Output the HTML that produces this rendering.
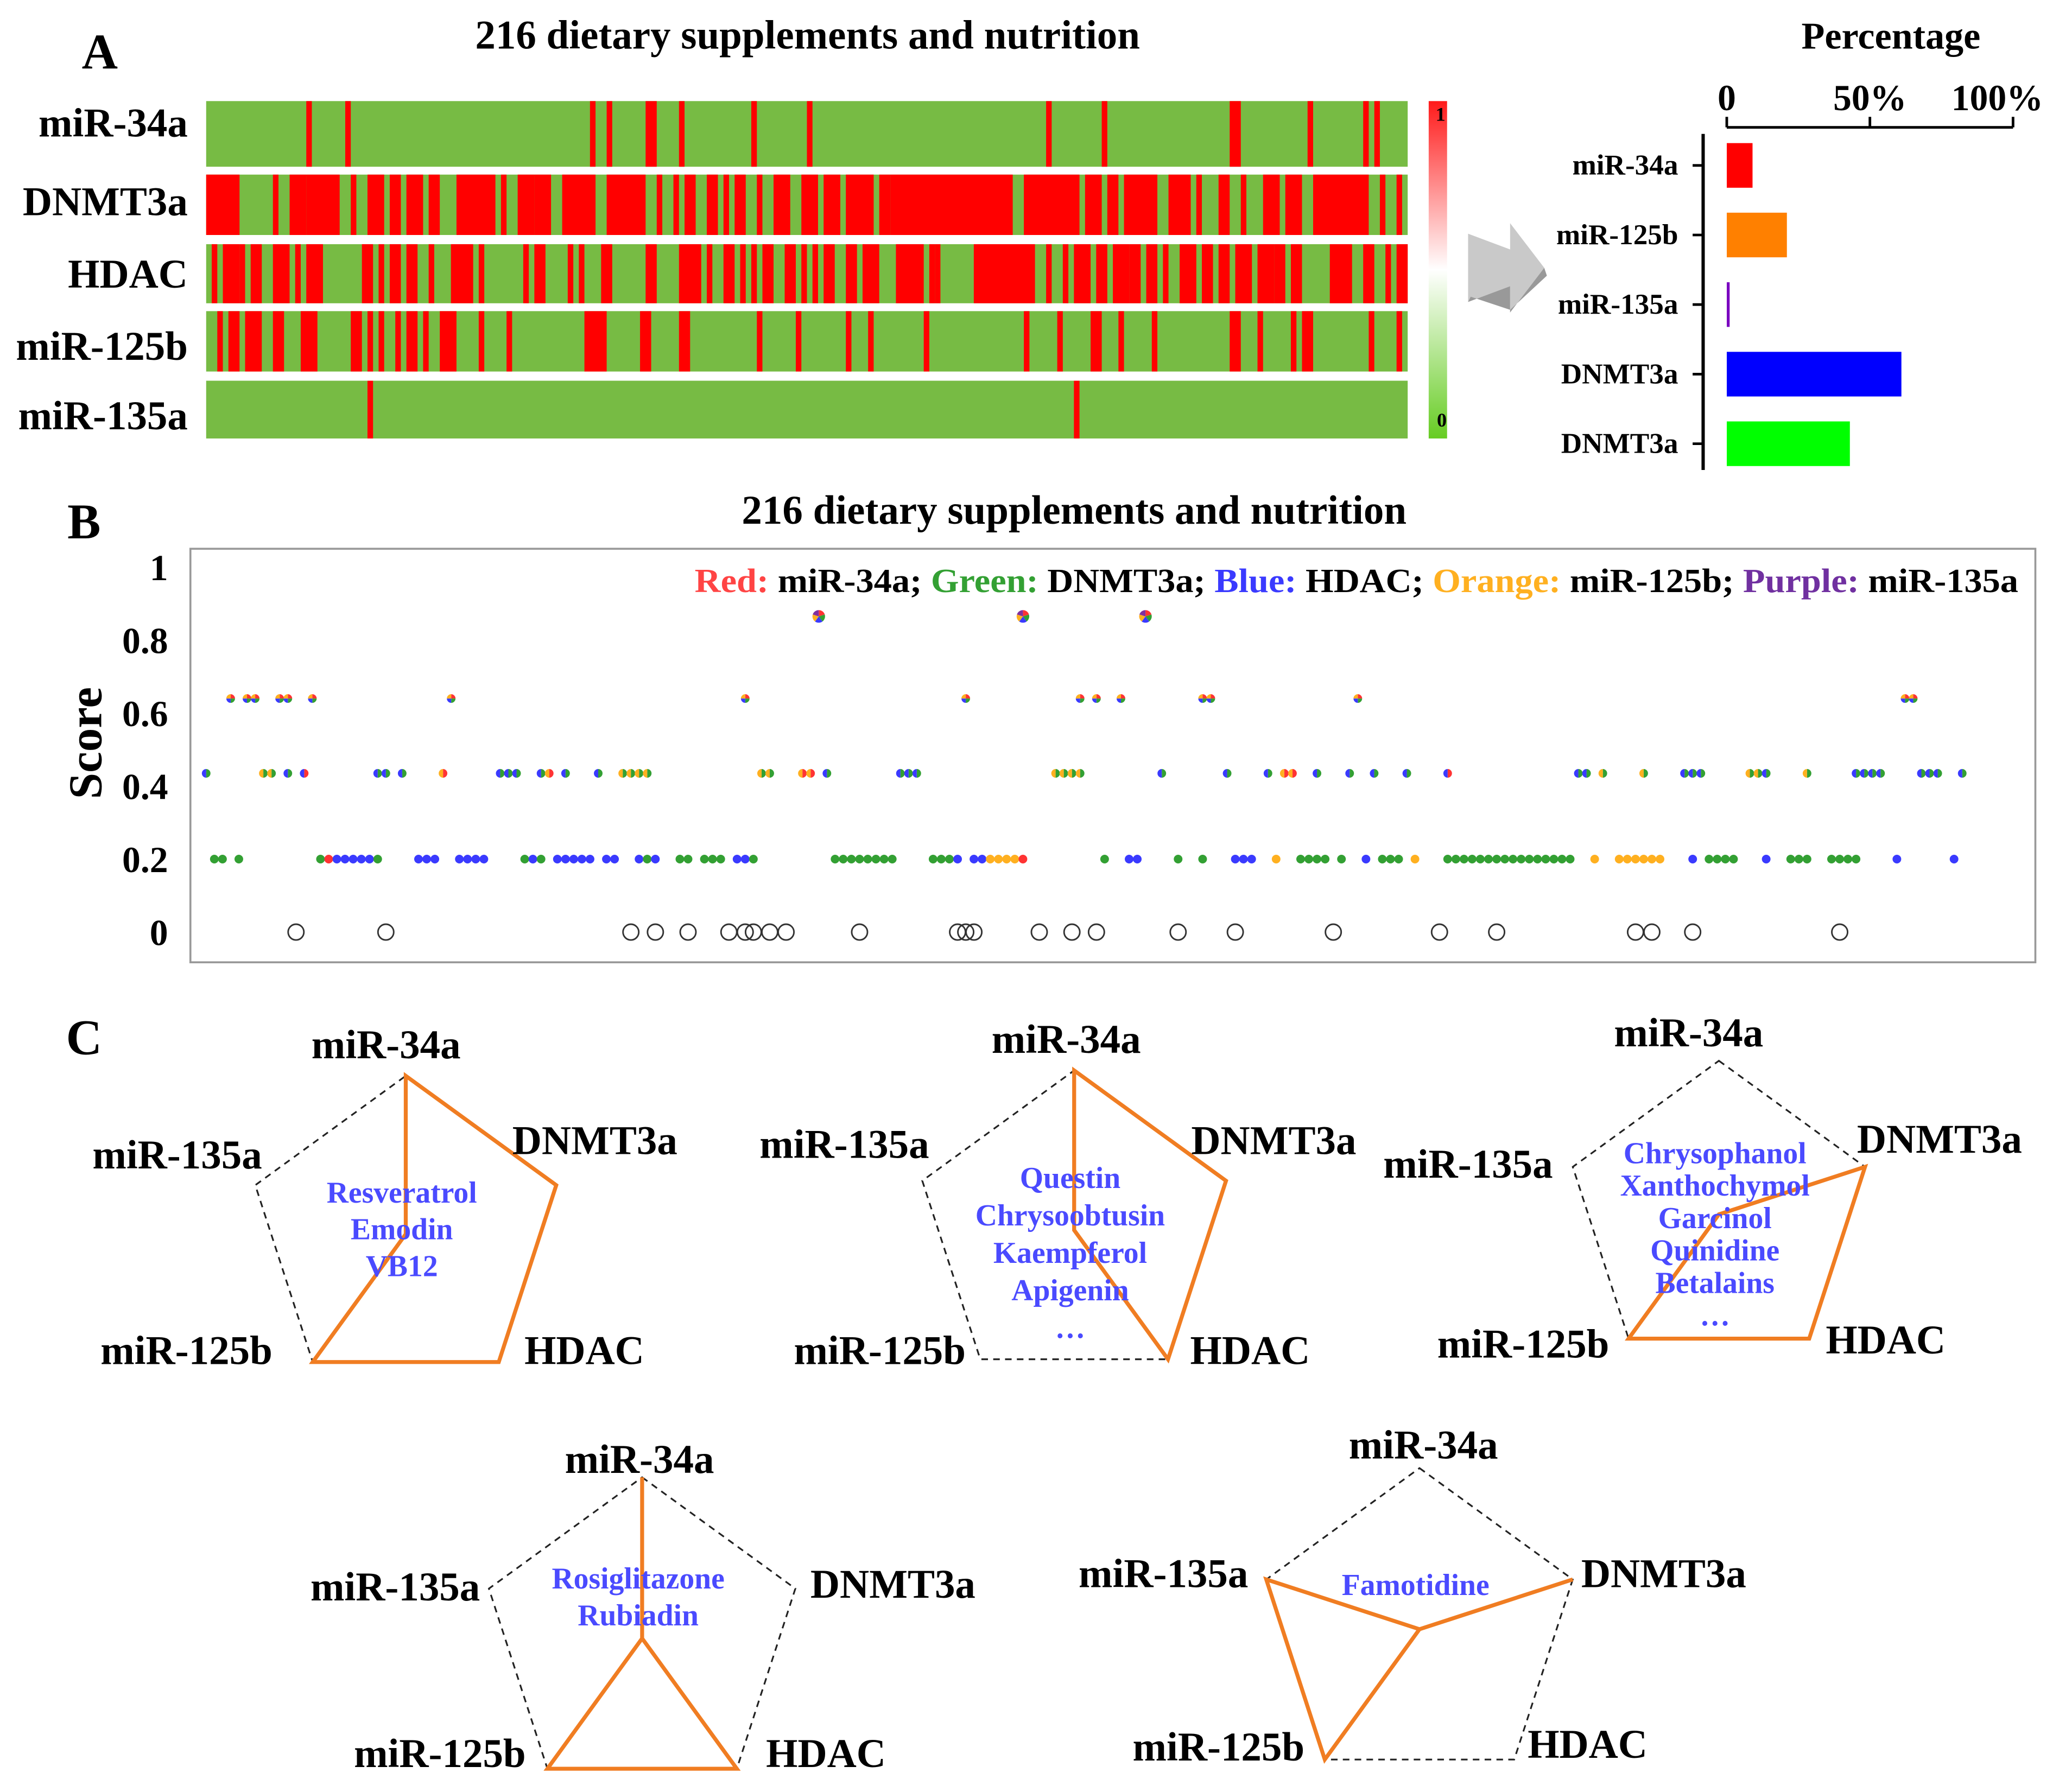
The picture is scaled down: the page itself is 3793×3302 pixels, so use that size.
<!DOCTYPE html>
<html><head><meta charset="utf-8">
<style>
html,body{margin:0;padding:0;background:#fff;}
svg{display:block;}
text{font-family:"Liberation Serif",serif;font-weight:bold;}
</style></head>
<body>
<svg id="fig" width="3793" height="3302" viewBox="0 0 1568 1365" preserveAspectRatio="none" xmlns="http://www.w3.org/2000/svg">
<defs>
<linearGradient id="cbar" x1="0" y1="0" x2="0" y2="1">
<stop offset="0" stop-color="#ff1a1a"/><stop offset="0.5" stop-color="#ffffff"/><stop offset="1" stop-color="#66cc22"/>
</linearGradient>
</defs>
<text x="76" y="52" font-size="38" text-anchor="middle">A</text>
<text x="64" y="410" font-size="38" text-anchor="middle">B</text>
<text x="64" y="803" font-size="38" text-anchor="middle">C</text>
<text x="615" y="37" font-size="31" text-anchor="middle">216 dietary supplements and nutrition</text>
<text x="1440" y="37" font-size="29" text-anchor="middle">Percentage</text>
<text x="818" y="399" font-size="31" text-anchor="middle">216 dietary supplements and nutrition</text>
<g id="heat"></g>
<g id="bars"></g>
<g id="scatter"></g>
<g id="radar"></g>
<polygon points="1118,178 1150,190 1150,170 1176,204 1150,238 1150,218 1118,230" fill="#c9c9c9"/>
<polygon points="1118,230 1150,218 1150,238 1176,204 1178,210 1150,236 1120,226" fill="#999"/>
</svg>
<script>
// ---------- Panel A heatmap data (index ranges of hits, 216 columns) ----------
const heatRows = ["miR-34a","DNMT3a","HDAC","miR-125b","miR-135a"];
const hitsMiR34a = [[18,18],[25,25],[69,69],[72,72],[79,80],[85,85],[98,98],[108,108],[151,151],[161,161],[184,185],[198,198],[208,208],[210,210]];
const hitsDNMT3a = [[0,5],[12,12],[15,17],[18,23],[26,26],[29,31],[33,34],[36,38],[40,41],[45,51],[53,53],[56,58],[59,61],[64,69],[72,78],[81,81],[84,84],[86,87],[90,91],[93,93],[95,96],[99,99],[102,104],[107,109],[111,113],[115,119],[121,122],[123,144],[147,156],[158,160],[162,163],[165,170],[173,176],[178,178],[182,183],[186,186],[190,192],[194,196],[199,208],[211,211],[214,214]];
const hitsHDAC = [[1,1],[3,5],[6,6],[8,9],[12,12],[13,14],[16,16],[18,20],[28,29],[31,31],[33,34],[36,37],[40,40],[44,47],[49,49],[57,57],[59,60],[65,65],[67,67],[71,72],[79,80],[85,88],[90,90],[93,94],[96,96],[98,98],[100,101],[104,105],[107,107],[109,109],[111,112],[115,116],[118,120],[124,128],[130,130],[131,131],[138,148],[151,151],[154,154],[156,158],[160,161],[163,165],[166,167],[169,170],[172,172],[175,177],[179,180],[182,183],[185,186],[187,187],[189,191],[192,193],[195,196],[202,205],[208,209],[212,212],[214,215]];
const hitsMiR125b = [[2,2],[4,5],[7,9],[12,13],[17,19],[26,27],[29,29],[31,31],[34,34],[36,37],[39,39],[42,44],[49,49],[54,54],[68,71],[78,79],[85,86],[99,99],[106,106],[115,115],[119,119],[129,129],[147,147],[153,153],[159,160],[164,164],[170,170],[184,185],[189,189],[195,195],[197,198],[209,209],[214,214]];
const hitsMiR135a = [[29,29],[156,156]];
const heatHits = [hitsMiR34a,hitsDNMT3a,hitsHDAC,hitsMiR125b,hitsMiR135a];
// ---------- Panel A bar data ----------
const barLabels = ["miR-34a","miR-125b","miR-135a","DNMT3a","DNMT3a"];
const barValues = [9,21,1,61,43];
const barColors = ["#ff0000","#ff8000","#7a00c0","#0000ff","#00ff00"];
const barTicks = [0,50,100];
const barTickLabels = ["0","50%","100%"];
// ---------- Panel B scatter data: [startIndex, count, colorKey] ----------
const dotRuns02 = [[1,2,"g"],[4,1,"g"],[14,1,"g"],[15,1,"r"],[16,5,"b"],[21,1,"g"],[26,3,"b"],[31,4,"b"],[39,1,"g"],[40,1,"b"],[41,1,"g"],[43,5,"b"],[49,2,"b"],[53,1,"b"],[54,1,"g"],[55,1,"b"],[58,2,"g"],[61,3,"g"],[65,2,"b"],[67,1,"g"],[77,8,"g"],[89,3,"g"],[92,1,"b"],[94,2,"b"],[96,4,"o"],[100,1,"r"],[110,1,"g"],[113,2,"b"],[119,1,"g"],[122,1,"g"],[126,3,"b"],[131,1,"o"],[134,4,"g"],[139,1,"g"],[142,1,"b"],[144,3,"g"],[148,1,"o"],[152,14,"g"],[166,2,"g"],[170,1,"o"],[173,6,"o"],[182,1,"b"],[184,4,"g"],[191,1,"b"],[194,3,"g"],[199,4,"g"],[207,1,"b"],[214,1,"b"]];
const dotRuns04 = [[0,1,"gb"],[7,2,"go"],[10,1,"gb"],[12,1,"rb"],[21,2,"gb"],[24,1,"gb"],[29,1,"ro"],[36,3,"gb"],[41,1,"gb"],[42,1,"ro"],[44,1,"gb"],[48,1,"gb"],[51,4,"go"],[68,2,"go"],[73,2,"ro"],[76,1,"gb"],[85,3,"gb"],[104,4,"go"],[117,1,"gb"],[125,1,"gb"],[130,1,"gb"],[132,2,"ro"],[136,1,"gb"],[140,1,"gb"],[143,1,"gb"],[147,1,"gb"],[152,1,"rb"],[168,2,"gb"],[171,1,"go"],[176,1,"go"],[181,3,"gb"],[189,2,"go"],[191,1,"gb"],[196,1,"go"],[202,4,"gb"],[210,3,"gb"],[215,1,"gb"]];
const dotRuns06 = [[3,1],[5,2],[9,1],[10,1],[13,1],[30,1],[66,1],[93,1],[107,1],[109,1],[112,1],[122,2],[141,1],[208,2]];
const dotRuns086 = [[75,1],[100,1],[115,1]];
const zeroIdx = [11,22,52,55,59,64,66,67,69,71,80,92,93,94,102,106,109,119,126,138,151,158,175,177,182,200];
const scoreTicks = [0,0.2,0.4,0.6,0.8,1];
const scoreTickLabels = ["0","0.2","0.4","0.6","0.8","1"];
// ---------- Panel C radar data ----------
const radarAxes = ["miR-34a","DNMT3a","HDAC","miR-125b","miR-135a"];
const radarScores = [[1,1,1,1,0],[1,1,1,0,0],[0,1,1,1,0],[1,0,1,1,0],[0,1,0,1,1]];
const radarNames = [["Resveratrol","Emodin","VB12"],["Questin","Chrysoobtusin","Kaempferol","Apigenin","…"],["Chrysophanol","Xanthochymol","Garcinol","Quinidine","Betalains","…"],["Rosiglitazone","Rubiadin"],["Famotidine"]];

const NS="http://www.w3.org/2000/svg";
function mk(tag,attrs,parent){const e=document.createElementNS(NS,tag);for(const k in attrs)e.setAttribute(k,attrs[k]);parent.appendChild(e);return e;}

// ---- heatmap ----
const heat=document.getElementById('heat');
const hx0=157,hx1=1072,nCol=216;
const rowY=[[77,127],[133,179],[186,231],[237,283],[290,334]];
const rowLabY=[104,164,219,274,327];
const colX=i=>hx0+(hx1-hx0)*i/nCol;
heatRows.forEach((name,r)=>{
  const bg=mk('rect',{x:hx0,y:rowY[r][0],width:hx1-hx0,height:rowY[r][1]-rowY[r][0],fill:'#77bb44'},heat);
  
  
  heatHits[r].forEach(([a,b])=>{
    const c=mk('rect',{x:colX(a),y:rowY[r][0],width:colX(b+1)-colX(a),height:rowY[r][1]-rowY[r][0],fill:'#ff0000'},heat);
    
    
  });
  const t=mk('text',{x:143,y:rowLabY[r],'font-size':31,'text-anchor':'end'},heat);t.textContent=name;
  
  
});
const cb=mk('rect',{x:1088,y:77,width:14,height:257,fill:'url(#cbar)'},heat);


const cb1=mk('text',{x:1097,y:92,'font-size':15,'text-anchor':'middle'},heat);cb1.textContent='1';


const cb0=mk('text',{x:1098,y:325,'font-size':15,'text-anchor':'middle'},heat);cb0.textContent='0';



// ---- bars ----
const bars=document.getElementById('bars');
const bx0=1315,bx1=1533;const bxs=v=>bx0+(bx1-bx0)*v/100;
mk('line',{x1:bx0,y1:97,x2:bx1,y2:97,stroke:'#000','stroke-width':2},bars);
mk('line',{x1:1297,y1:102,x2:1297,y2:358,stroke:'#000','stroke-width':2.5},bars);
barTicks.forEach((v,i)=>{
  mk('line',{x1:bxs(v),y1:97,x2:bxs(v),y2:89,stroke:'#000','stroke-width':2},bars);
  const t=mk('text',{x:bxs(v)+(i==2?-12:0),y:84,'font-size':28,'text-anchor':'middle'},bars);t.textContent=barTickLabels[i];
  
  
});
barLabels.forEach((name,i)=>{
  const cy=126+i*53;
  mk('line',{x1:1289,y1:cy,x2:1297,y2:cy,stroke:'#000','stroke-width':2},bars);
  const r=mk('rect',{x:bx0,y:cy-17,width:Math.max(1.5,bxs(barValues[i])-bx0),height:34,fill:barColors[i]},bars);
  
  
  const t=mk('text',{x:1278,y:cy+7,'font-size':22,'text-anchor':'end'},bars);t.textContent=name;
  
  
});

// ---- scatter ----
const sc=document.getElementById('scatter');
const frame=mk('rect',{x:145,y:418,width:1405,height:315,fill:'none',stroke:'#999','stroke-width':1.5},sc);


const sx=i=>157+i*6.22, sy=v=>710-v*278;
scoreTicks.forEach((v,i)=>{
  const t=mk('text',{x:128,y:sy(v)+10,'font-size':28,'text-anchor':'end'},sc);t.textContent=scoreTickLabels[i];
  
  
});
const yt=mk('text',{x:0,y:0,'font-size':36,'text-anchor':'middle',transform:'translate(77,566) rotate(-90)'},sc);yt.textContent='Score';


const COL={r:'#ff3333',g:'#33a033',b:'#3a3aff',o:'#ffb020',p:'#8030a0'};
function pie(cx,cy,r,cols){
  const n=cols.length;const g=mk('g',{},sc);
  
  
  if(n==1){mk('circle',{cx,cy,r,fill:COL[cols[0]]},g);return;}
  for(let k=0;k<n;k++){
    const a0=-Math.PI/2+2*Math.PI*k/n,a1=-Math.PI/2+2*Math.PI*(k+1)/n;
    mk('path',{d:`M${cx},${cy}L${cx+r*Math.cos(a0)},${cy+r*Math.sin(a0)}A${r},${r} 0 0 1 ${cx+r*Math.cos(a1)},${cy+r*Math.sin(a1)}Z`,fill:COL[cols[k]]},g);
  }
}
dotRuns02.forEach(([s,n,c])=>{for(let k=0;k<n;k++)pie(sx(s+k),sy(0.2),3.3,c.split(''));});
dotRuns04.forEach(([s,n,c])=>{for(let k=0;k<n;k++)pie(sx(s+k),sy(0.435),3.3,c.split(''));});
dotRuns06.forEach(([s,n])=>{for(let k=0;k<n;k++)pie(sx(s+k),sy(0.64),3.3,['r','g','b','o']);});
dotRuns086.forEach(([s,n])=>{for(let k=0;k<n;k++)pie(sx(s+k),sy(0.865),4.8,['r','g','b','o','p']);});
zeroIdx.forEach(i=>{
  const c=mk('circle',{cx:sx(i),cy:sy(0),r:6,fill:'none',stroke:'#333','stroke-width':1.2},sc);
  
  
});
// legend
const lg=mk('text',{x:1537,y:451,'font-size':26,'text-anchor':'end',textLength:1008,lengthAdjust:'spacingAndGlyphs'},sc);


[["Red: ","#ff4444"],["miR-34a; ","#000"],["Green: ","#33a033"],["DNMT3a; ","#000"],["Blue: ","#3a3aff"],["HDAC; ","#000"],["Orange: ","#ffb020"],["miR-125b; ","#000"],["Purple: ","#7030a0"],["miR-135a","#000"]].forEach(([t,c])=>{const s=mk('tspan',{fill:c},lg);s.textContent=t;});

// ---- radar ----
const rd=document.getElementById('radar');
const radarGeom=[[309,940,120.5],[818,937,121.6],[1309,925,117],[489,1248,122.7],[1081,1241,122.7]];
const radarLabelPos=[
 [[294,806],[453,879],[445,1039],[142,1039],[135,890]],
 [[812,802],[970,879],[952,1039],[670,1039],[643,882]],
 [[1286,797],[1477,878],[1436,1031],[1160,1034],[1118,897]],
 [[487,1122],[680,1217],[629,1346],[335,1346],[301,1219]],
 [[1084,1111],[1267,1209],[1209,1339],[928,1341],[886,1209]]];
const radarNameY=[[916,28],[905,28.5],[886,24.7],[1210,28],[1215,28]];
radarScores.forEach((sc5,ci)=>{
  const [cx,cy,R]=radarGeom[ci];
  const g=mk('g',{},rd);
  
  
  const vx=k=>cx+R*Math.cos(-Math.PI/2+k*2*Math.PI/5), vy=k=>cy+R*Math.sin(-Math.PI/2+k*2*Math.PI/5);
  mk('polygon',{points:[0,1,2,3,4].map(k=>vx(k)+','+vy(k)).join(' '),fill:'none',stroke:'#222','stroke-width':1.3,'stroke-dasharray':'5,4'},g);
  const pts=sc5.map((v,k)=>(cx+(vx(k)-cx)*v)+','+(cy+(vy(k)-cy)*v)).join(' ');
  mk('polygon',{points:pts,fill:'none',stroke:'#f07d22','stroke-width':3,'stroke-linejoin':'miter'},g);
  radarAxes.forEach((a,k)=>{
    const [lx,ly]=radarLabelPos[ci][k];
    const t=mk('text',{x:lx,y:ly,'font-size':31,'text-anchor':'middle'},g);t.textContent=a;
    
    
  });
  const [ny,dy]=radarNameY[ci];
  radarNames[ci].forEach((n,j)=>{
    const t=mk('text',{x:cx-3,y:ny+j*dy,'font-size':23,'text-anchor':'middle',fill:'#4a4aff'},g);t.textContent=n;
    
    
  });
});
</script>
</body></html>
